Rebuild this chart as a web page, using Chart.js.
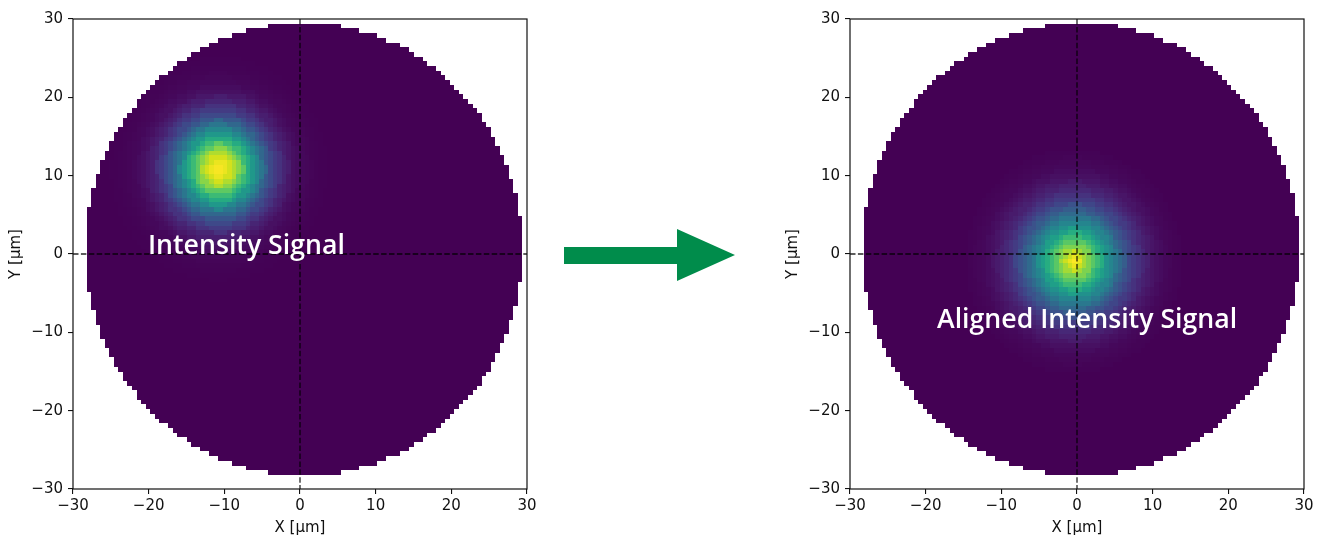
<!DOCTYPE html>
<html>
<head>
<meta charset="utf-8">
<script src="https://cdn.jsdelivr.net/npm/chart.js@4.4.1/dist/chart.umd.min.js"></script>
<style>
  html, body { margin: 0; padding: 0; background: #fff; }
  #wrap { position: relative; width: 1320px; height: 538px; overflow: hidden; }
  .panel { position: absolute; top: 0; width: 543px; height: 538px; }
  #arrow { position: absolute; left: 0; top: 0; pointer-events: none; }
</style>
</head>
<body>
<div id="wrap">
  <div class="panel" style="left:0px"><canvas id="before" width="543" height="538"></canvas></div>
  <svg id="arrow" width="1320" height="538">
    <polygon points="564,247 677,247 677,229 735,255 677,281 677,264 564,264" fill="#008c4b"/>
  </svg>
  <div class="panel" style="left:777px"><canvas id="after" width="543" height="538"></canvas></div>
</div>
<script>
// ---- axis ticks (µm) ----
const axisTicks = [-30, -20, -10, 0, 10, 20, 30];

// ---- detector grid and circular aperture (µm) ----
const gridStart = -30;
const gridCount = 100;
const cellSize = 0.6;
const apertureCenter = [0.5, 0.6];
const apertureRadius = 28.9;

// ---- spot positions (µm) ----
const rawSpotCenter = [-10.7, 10.9];
const alignedSpotCenter = [-0.4, -0.9];

// ---- normalised radial intensity profiles, one sample every 0.5 µm from the spot centre ----
const profileStep = 0.5;
const rawProfile = [1.00, 0.99, 0.97, 0.93, 0.88, 0.82, 0.75, 0.68, 0.61, 0.53,
                    0.46, 0.39, 0.33, 0.27, 0.22, 0.17, 0.14, 0.10, 0.08, 0.06,
                    0.04, 0.03, 0.02, 0.015, 0.01, 0.007, 0.005, 0.003, 0.002];
const alignedProfile = [1.00, 0.97, 0.92, 0.86, 0.80, 0.74, 0.68, 0.62, 0.56, 0.50,
                        0.45, 0.40, 0.34, 0.29, 0.25, 0.21, 0.17, 0.14, 0.11, 0.09,
                        0.07, 0.055, 0.04, 0.03, 0.02, 0.015, 0.01, 0.007, 0.005];

// ---- annotation text ----
const rawLabel = 'Intensity Signal';
const alignedLabel = 'Aligned Intensity Signal';

// viridis colour map anchors
const VIRIDIS = ['#440154','#48186a','#472d7b','#424086','#3b528b','#33638d','#2c728e','#26828e',
                 '#21918c','#1fa088','#28ae80','#3fbc73','#5ec962','#84d44b','#addc30','#d8e219','#fde725'];
const VIR_RGB = VIRIDIS.map(h => [1, 3, 5].map(i => parseInt(h.slice(i, i + 2), 16)));
function viridis(v) {
  v = Math.max(0, Math.min(1, v));
  const t = v * (VIR_RGB.length - 1);
  const i = Math.min(Math.floor(t), VIR_RGB.length - 2);
  const f = t - i;
  const a = VIR_RGB[i], b = VIR_RGB[i + 1];
  const c = a.map((av, k) => Math.round(av + (b[k] - av) * f));
  return `rgb(${c[0]},${c[1]},${c[2]})`;
}

// build the cells inside the aperture, each carrying its intensity
function buildCells(center, profile) {
  const pts = [];
  for (let i = 0; i < gridCount; i++) {
    const x = gridStart + (i + 0.5) * cellSize;
    for (let j = 0; j < gridCount; j++) {
      const y = gridStart + (j + 0.5) * cellSize;
      if (Math.hypot(x - apertureCenter[0], y - apertureCenter[1]) > apertureRadius) continue;
      const k = Math.round(Math.hypot(x - center[0], y - center[1]) / profileStep);
      pts.push({ x, y, v: k < profile.length ? profile[k] : 0 });
    }
  }
  return pts;
}

const INK = '#111111';
const tickFont = { family: 'DejaVu Sans', size: 15 };
const fmt = v => String(v).replace('-', '\u2212');

// cell edge in µm, computed the same way for neighbouring cells so they share a pixel border
const cellEdge = (c, side) => gridStart + (Math.round((c - gridStart) / cellSize - 0.5) + side) * cellSize;

// paints every cell as a rectangle positioned through the chart's scales
const cellMapPlugin = {
  id: 'cellMap',
  beforeDatasetsDraw(chart) {
    const { ctx, scales: { x: xs, y: ys } } = chart;
    ctx.save();
    for (const p of chart.data.datasets[0].data) {
      const x0 = Math.round(xs.getPixelForValue(cellEdge(p.x, 0)));
      const x1 = Math.round(xs.getPixelForValue(cellEdge(p.x, 1)));
      const y0 = Math.round(ys.getPixelForValue(cellEdge(p.y, 1)));
      const y1 = Math.round(ys.getPixelForValue(cellEdge(p.y, 0)));
      ctx.fillStyle = viridis(p.v);
      ctx.fillRect(x0, y0, x1 - x0, y1 - y0);
    }
    ctx.restore();
  },
  afterDatasetsDraw(chart, args, opts) {
    const { ctx, chartArea: a, scales: { x: xs, y: ys } } = chart;
    ctx.save();
    // dashed cross hair through the origin
    ctx.strokeStyle = 'rgba(0,0,0,0.85)';
    ctx.lineWidth = 1.3;
    ctx.setLineDash([5.5, 2.4]);
    const x0 = xs.getPixelForValue(0), y0 = ys.getPixelForValue(0);
    ctx.beginPath();
    ctx.moveTo(x0, a.top); ctx.lineTo(x0, a.bottom);
    ctx.moveTo(a.left, y0); ctx.lineTo(a.right, y0);
    ctx.stroke();
    ctx.setLineDash([]);
    // annotation
    ctx.fillStyle = '#ffffff';
    ctx.font = '600 26.7px "Open Sans"';
    ctx.textAlign = 'left';
    ctx.textBaseline = 'alphabetic';
    ctx.fillText(opts.text, xs.getPixelForValue(opts.at[0]), ys.getPixelForValue(opts.at[1]));
    ctx.restore();
  },
  afterDraw(chart) {
    const { ctx, chartArea: a } = chart;
    ctx.save();
    ctx.strokeStyle = INK;
    ctx.lineWidth = 1.2;
    ctx.strokeRect(a.left, a.top, a.right - a.left, a.bottom - a.top);
    ctx.restore();
  }
};

function makeChart(id, cells, text, at) {
  return new Chart(document.getElementById(id), {
    type: 'scatter',
    data: { datasets: [{ data: cells, pointRadius: 0, pointHoverRadius: 0 }] },
    plugins: [cellMapPlugin],
    options: {
      responsive: false,
      animation: false,
      events: [],
      layout: { padding: { left: 0, right: 16, top: 19, bottom: 0 } },
      plugins: {
        legend: { display: false },
        tooltip: { enabled: false },
        cellMap: { text, at }
      },
      scales: {
        x: {
          type: 'linear', min: axisTicks[0], max: axisTicks[axisTicks.length - 1],
          afterBuildTicks: s => { s.ticks = axisTicks.map(v => ({ value: v })); },
          ticks: { color: INK, font: tickFont, padding: 3, maxRotation: 0, autoSkip: false, callback: fmt },
          grid: { drawOnChartArea: false, drawTicks: true, tickLength: 5, color: INK, lineWidth: 1.1 },
          border: { display: false },
          title: { display: true, text: 'X [µm]', color: INK, font: tickFont, padding: { top: 0, bottom: 1 } },
          afterFit: s => { s.height = 49; }
        },
        y: {
          type: 'linear', min: axisTicks[0], max: axisTicks[axisTicks.length - 1],
          afterBuildTicks: s => { s.ticks = axisTicks.map(v => ({ value: v })); },
          ticks: { color: INK, font: tickFont, padding: 5, autoSkip: false, callback: fmt },
          grid: { drawOnChartArea: false, drawTicks: true, tickLength: 5, color: INK, lineWidth: 1.1 },
          border: { display: false },
          title: { display: true, text: 'Y [µm]', color: INK, font: tickFont, padding: { top: 7, bottom: 0 } },
          afterFit: s => { s.width = 73; }
        }
      }
    }
  });
}

function draw() {
  makeChart('before', buildCells(rawSpotCenter, rawProfile), rawLabel, [-20.1, 0.0]);
  makeChart('after', buildCells(alignedSpotCenter, alignedProfile), alignedLabel, [-18.5, -9.5]);
}

if (document.fonts && document.fonts.load) {
  Promise.all([
    document.fonts.load('600 26.7px "Open Sans"'),
    document.fonts.load('15px "DejaVu Sans"')
  ]).then(draw, draw);
} else {
  draw();
}
</script>
</body>
</html>
